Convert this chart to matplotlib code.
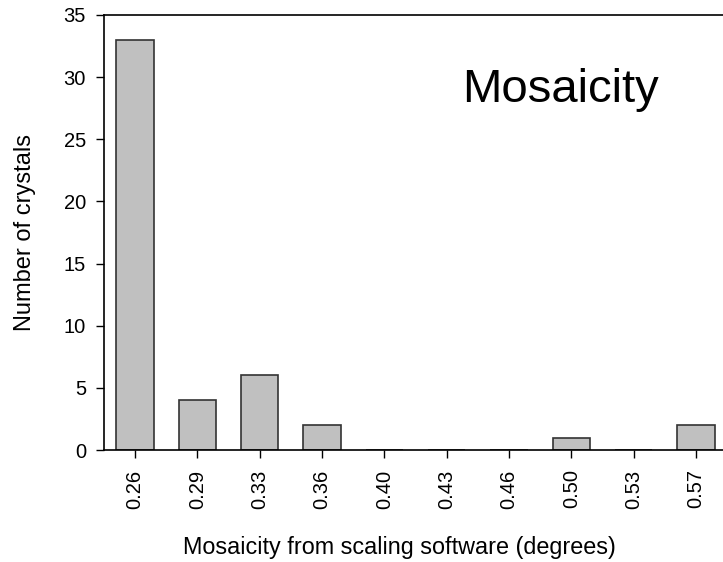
import numpy as np
import matplotlib
matplotlib.use("Agg")
import matplotlib.pyplot as plt

plt.rcParams["font.family"] = ["Liberation Sans", "DejaVu Sans"]

# histogram of crystal mosaicity
bins = ["0.26", "0.29", "0.33", "0.36", "0.40",
        "0.43", "0.46", "0.50", "0.53", "0.57"]
counts = [33, 4, 6, 2, 0, 0, 0, 1, 0, 2]

fig = plt.figure(figsize=(7.23, 5.62), dpi=100)
ax = fig.add_axes([104/723, 112/562, 623/723, 435/562])

x = np.arange(len(bins))
ax.bar(x, counts, width=0.6, color="#c0c0c0", edgecolor="#333333",
       linewidth=1.2, zorder=2)

ax.set_xlim(-0.5, len(bins) - 0.5)
ax.set_ylim(0, 35)
ax.set_yticks(range(0, 36, 5))
ax.set_xticks(x)
ax.set_xticklabels(bins, rotation=90)
ax.tick_params(axis="both", direction="out", length=6, width=1,
               labelsize=14.5, pad=7)
ax.tick_params(axis="x", pad=8)
for s in ax.spines.values():
    s.set_linewidth(1.2)
ax.spines["right"].set_visible(False)

ax.set_xlabel("Mosaicity from scaling software (degrees)", fontsize=16.8,
              labelpad=20)
ax.xaxis.label.set_x(0.4735)
ax.set_ylabel("Number of crystals", fontsize=17, labelpad=20)
ax.text(0.5746, 0.80, "Mosaicity", transform=ax.transAxes, fontsize=34,
        ha="left", va="baseline")

fig.savefig("out.png", dpi=100)
